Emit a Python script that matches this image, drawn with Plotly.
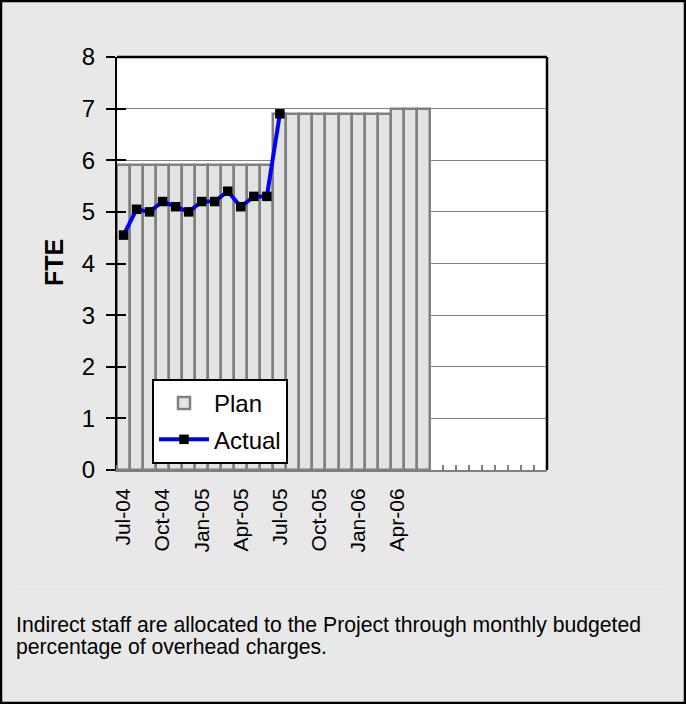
import plotly.graph_objects as go

months = ["Jul-04", "Aug-04", "Sep-04", "Oct-04", "Nov-04", "Dec-04",
          "Jan-05", "Feb-05", "Mar-05", "Apr-05", "May-05", "Jun-05",
          "Jul-05", "Aug-05", "Sep-05", "Oct-05", "Nov-05", "Dec-05",
          "Jan-06", "Feb-06", "Mar-06", "Apr-06", "May-06", "Jun-06",
          "Jul-06", "Aug-06", "Sep-06", "Oct-06", "Nov-06", "Dec-06",
          "Jan-07", "Feb-07", "Mar-07"]
plan = [5.9] * 12 + [6.9] * 9 + [7.0] * 3 + [None] * 9
actual = [4.55, 5.05, 5.0, 5.2, 5.1, 5.0, 5.2, 5.2, 5.4, 5.1, 5.3, 5.3, 6.9]
tick_labels = ["Jul-04", "Oct-04", "Jan-05", "Apr-05", "Jul-05", "Oct-05", "Jan-06", "Apr-06"]

x_idx = list(range(len(months)))
tick_pos = [months.index(m) for m in tick_labels]

FONT = "Liberation Sans, Arial, sans-serif"
W, H = 686, 704
L, R, T, B = 117, 139, 57, 234
pw, ph = W - L - R, H - T - B


def px(x):
    return (x - L) / pw


def py(y):
    return (H - B - y) / ph


fig = go.Figure()
fig.add_trace(go.Bar(
    x=x_idx, y=plan, name="Plan", width=1.0,
    marker=dict(color="#e3e3e3", line=dict(color="#808080", width=2.5)),
    customdata=months, hovertemplate="%{customdata}: %{y}<extra>Plan</extra>",
    legendgroup="a",
))
fig.add_trace(go.Scatter(
    x=x_idx[:len(actual)], y=actual, name="Actual", mode="lines+markers",
    line=dict(color="#0000ff", width=4),
    marker=dict(symbol="square", color="black", size=9.5),
    customdata=months[:len(actual)], hovertemplate="%{customdata}: %{y}<extra>Actual</extra>",
    legendgroup="b",
))
fig.add_trace(go.Scatter(x=[None], y=[None], yaxis="y2", showlegend=False, hoverinfo="skip"))

fig.update_layout(
    width=W, height=H,
    margin=dict(l=L, r=R, t=T, b=B, pad=0),
    paper_bgcolor="#e8e8e8", plot_bgcolor="white",
    font=dict(family=FONT, color="black"),
    bargap=0,
    showlegend=True,
    legend=dict(
        x=px(152), y=py(379), xanchor="left", yanchor="top",
        bgcolor="white", bordercolor="black", borderwidth=2,
        font=dict(size=24, family=FONT), itemwidth=50,
        traceorder="grouped", tracegroupgap=2,
    ),
    xaxis=dict(
        range=[-0.5, len(months) - 0.5],
        tickmode="array", tickvals=tick_pos, ticktext=tick_labels,
        tickangle=-90, tickfont=dict(size=21, family=FONT),
        ticks="outside", ticklen=8, tickcolor="rgba(0,0,0,0)",
        showgrid=False, zeroline=False,
        showline=True, linecolor="#808080", linewidth=2,
        minor=dict(tickmode="linear", tick0=-0.5, dtick=1, ticks="inside",
                   ticklen=5, tickwidth=2, tickcolor="#808080", showgrid=False),
    ),
    yaxis=dict(
        range=[0, 8], dtick=1, tick0=0,
        tickfont=dict(size=24, family=FONT),
        ticks="outside", ticklen=9, tickwidth=2, tickcolor="black",
        ticklabelstandoff=6,
        showline=True, linecolor="black", linewidth=2,
        showgrid=True, gridcolor="#808080", gridwidth=1,
        zeroline=False,
    ),
    yaxis2=dict(
        range=[0, 8], dtick=1, tick0=0, overlaying="y", side="left", anchor="x",
        ticks="inside", ticklen=9, tickwidth=2, tickcolor="black",
        showticklabels=False, showgrid=False, showline=False, zeroline=False,
    ),
    shapes=[
        dict(type="line", xref="paper", yref="paper", x0=0, x1=1, y0=1, y1=1,
             line=dict(color="black", width=2.5)),
        dict(type="line", xref="paper", yref="paper", x0=1, x1=1, y0=0, y1=1,
             line=dict(color="black", width=2.5)),
        dict(type="line", xref="paper", yref="paper", x0=px(15), x1=px(671), y0=py(587), y1=py(587),
             line=dict(color="#ececec", width=1)),
        dict(type="rect", xref="paper", yref="paper", x0=px(1), x1=px(685), y0=py(703), y1=py(1),
             line=dict(color="black", width=2.5)),
    ],
    annotations=[
        dict(text="<b>FTE</b>", xref="paper", yref="paper", x=px(54), y=py(263),
             textangle=-90, showarrow=False, font=dict(size=25, family=FONT),
             xanchor="center", yanchor="middle"),
        dict(text="Indirect staff are allocated to the Project through monthly budgeted",
             xref="paper", yref="paper", x=px(14), y=py(625), xanchor="left", yanchor="middle",
             showarrow=False, font=dict(size=21.2, family=FONT)),
        dict(text="percentage of overhead charges.",
             xref="paper", yref="paper", x=px(14), y=py(647), xanchor="left", yanchor="middle",
             showarrow=False, font=dict(size=21.2, family=FONT)),
    ],
)

fig.write_html("out.html", config={"displayModeBar": False},
               post_script="document.body.style.margin='0';")
